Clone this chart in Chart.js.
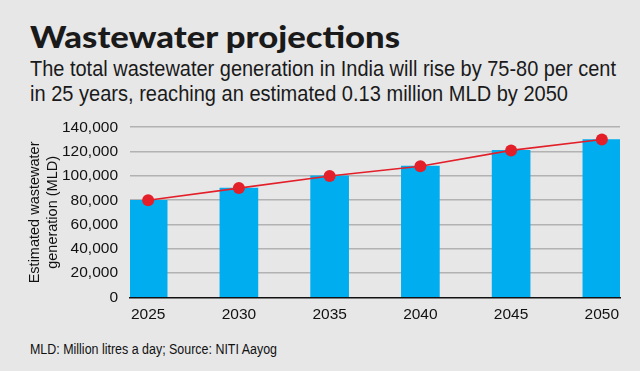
<!DOCTYPE html>
<html>
<head>
<meta charset="utf-8">
<script src="https://cdn.jsdelivr.net/npm/chart.js@4.4.1/dist/chart.umd.min.js"></script>
<style>
  html, body { margin: 0; padding: 0; }
  body {
    width: 640px;
    height: 371px;
    background: #e7e7e8;
    position: relative;
    overflow: hidden;
    color: #111;
  }
  .txt { position: absolute; left: 30px; white-space: nowrap; transform-origin: 0 0; }
  .fit { display: inline-block; transform-origin: 0 0; }
  #title {
    top: 21px;
    font-family: "Lato", "DejaVu Sans", sans-serif;
    font-weight: 900;
    font-size: 30px;
    line-height: 30px;
    color: #1a1a1a;
  }
  #subtitle {
    top: 57px;
    font-family: "Liberation Sans Narrow", "Liberation Sans", sans-serif;
    font-size: 22px;
    line-height: 24.7px;
    color: #1a1a1a;
  }
  #footer {
    top: 341px;
    font-family: "Liberation Sans Narrow", "Liberation Sans", sans-serif;
    font-size: 15.5px;
    line-height: 15.5px;
    color: #111;
  }
  #chartWrap { position: absolute; left: 0; top: 106px; width: 640px; height: 224px; }
</style>
</head>
<body>
<div id="title" class="txt"><span class="fit" data-w="370">Wastewater projections</span></div>
<div id="subtitle" class="txt">
  <span class="fit" data-w="586">The total wastewater generation in India will rise by 75-80 per cent</span><br>
  <span class="fit" data-w="538">in 25 years, reaching an estimated 0.13 million MLD by 2050</span>
</div>
<div id="footer" class="txt"><span class="fit" data-w="247">MLD: Million litres a day; Source: NITI Aayog</span></div>
<div id="chartWrap"><canvas id="chart"></canvas></div>
<script>
const years = [2025, 2030, 2035, 2040, 2045, 2050];
const barValues = [80000, 90000, 100000, 108000, 121000, 130000];
const lineValues = [80000, 90000, 100000, 108000, 121000, 130000];
const yTicks = [0, 20000, 40000, 60000, 80000, 100000, 120000, 140000];
const yTitle = ["Estimated wastewater", "generation (MLD)"];

const NARROW = '"Liberation Sans Narrow", "Liberation Sans", sans-serif';

// squeeze header/footer text to the widths measured on the reference
document.querySelectorAll(".fit").forEach((el) => {
  const w = el.getBoundingClientRect().width;
  const target = Number(el.dataset.w);
  el.style.transform = `scaleX(${(target / w).toFixed(4)})`;
});

const barData = years.map((yr, i) => ({ x: yr, y: barValues[i] }));
const lineData = years.map((yr, i) => ({ x: yr, y: lineValues[i] }));

new Chart(document.getElementById("chart"), {
  data: {
    datasets: [
      {
        type: "line",
        data: lineData,
        borderColor: "#e3202a",
        borderWidth: 1.6,
        pointRadius: 6,
        pointBackgroundColor: "#e3202a",
        pointBorderWidth: 0,
        pointHoverRadius: 6,
        tension: 0,
        order: 0
      },
      {
        type: "bar",
        data: barData,
        backgroundColor: "#00adee",
        barThickness: 38,
        order: 1
      }
    ]
  },
  options: {
    responsive: true,
    maintainAspectRatio: false,
    animation: false,
    layout: { padding: { top: 1, right: 20, left: 0, bottom: 0 } },
    plugins: { legend: { display: false }, tooltip: { enabled: false } },
    scales: {
      x: {
        type: "linear",
        offset: false,
        min: years[0] - 1,
        max: years[years.length - 1] + 1,
        afterBuildTicks: (scale) => {
          scale.ticks = years.map((v) => ({ value: v }));
        },
        afterFit: (scale) => {
          scale.height = 32.5;
        },
        grid: { display: false, drawTicks: false },
        border: { display: true, color: "#111", width: 1.6 },
        ticks: {
          padding: 8,
          color: "#111",
          font: { family: NARROW, size: 15.5 },
          maxRotation: 0,
          callback: (v) => String(v)
        }
      },
      y: {
        min: 0,
        max: 140000,
        afterBuildTicks: (scale) => {
          scale.ticks = yTicks.map((v) => ({ value: v }));
        },
        afterFit: (scale) => {
          scale.width = 130;
        },
        grid: {
          drawTicks: false,
          lineWidth: 1.6,
          color: (ctx) => (ctx.tick && ctx.tick.value === 0 ? "rgba(0,0,0,0)" : "#b2b2b2")
        },
        border: { display: false },
        ticks: {
          padding: 12,
          color: "#111",
          font: { family: NARROW, size: 15.5 },
          callback: (v) => v.toLocaleString("en-US")
        },
        title: {
          display: true,
          text: yTitle,
          color: "#111",
          font: { family: NARROW, size: 14.5, lineHeight: 1.25 },
          padding: { top: 26, bottom: 0 }
        }
      }
    }
  }
});
</script>
</body>
</html>
